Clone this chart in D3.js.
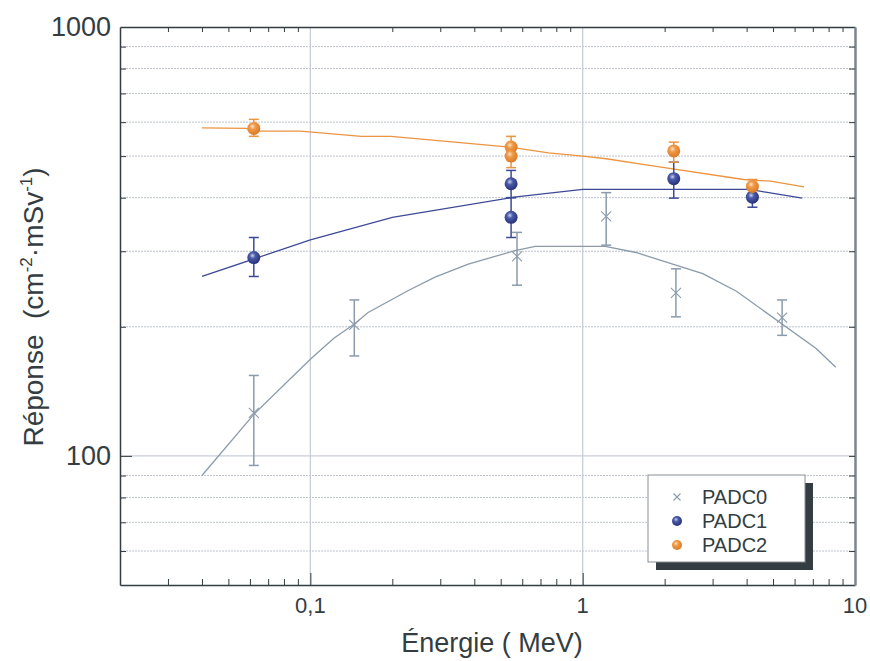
<!DOCTYPE html>
<html>
<head>
<meta charset="utf-8">
<script src="https://cdn.jsdelivr.net/npm/d3@7"></script>
<style>
  body { margin: 0; background: #fff; }
  text { font-family: "Liberation Sans", Arial, sans-serif; fill: #333d42; }
</style>
</head>
<body>
<div id="chart"></div>
<script>
// series names
const seriesNames = ["PADC0", "PADC1", "PADC2"];

// measured points (energy in MeV, response)
const energy0 = [0.062, 0.145, 0.574, 1.22, 2.2, 5.4];
const resp0 = [126, 202, 292, 362, 240, 210];
const low0 = [95, 171, 250, 310, 211, 191];
const high0 = [154, 231, 332, 411, 273, 231];

const energy1 = [0.062, 0.546, 0.546, 2.16, 4.2];
const resp1 = [290, 431, 360, 443, 401];
const low1 = [262, 400, 323, 399, 380];
const high1 = [323, 463, 400, 484, 422];

const energy2 = [0.062, 0.546, 0.546, 2.16, 4.2];
const resp2 = [580, 525, 500, 514, 425];
const low2 = [556, 500, 470, 484, 410];
const high2 = [609, 556, 525, 539, 441];

// calculated response curves
const fitE0 = [0.04, 0.062, 0.1, 0.122, 0.145, 0.163, 0.229, 0.287, 0.38, 0.564, 0.67, 1.21, 1.57, 2.76, 3.67, 7.2, 8.5];
const fitR0 = [90, 125, 168, 188, 203, 216, 243, 261, 280, 301, 308, 308, 298, 266, 242, 178, 161];
const fitE1 = [0.04, 0.1, 0.2, 0.56, 1.0, 4.1, 4.7, 6.4];
const fitR1 = [262, 319, 360, 401, 418, 418, 412, 399];
const fitE2 = [0.04, 0.058, 0.063, 0.092, 0.154, 0.198, 0.54, 0.75, 1.0, 1.22, 1.76, 3.9, 4.9, 6.5];
const fitR2 = [582, 580, 572, 572, 556, 556, 525, 509, 500, 493, 476, 441, 437, 424];

// tick labels
const xTickValues = [0.1, 1, 10];
const xTickLabels = ["0,1", "1", "10"];
const yTickValues = [100, 1000];
const yTickLabels = ["100", "1000"];

const svgWidth = 870;
const svgHeight = 661;
const margin = { top: 27, right: 15, bottom: 76, left: 120 };
const chartWidth = svgWidth - margin.left - margin.right;
const chartHeight = svgHeight - margin.top - margin.bottom;

const colors = ["#8b9bab", "#3d4a97", "#ec9440"];

const svg = d3.select("#chart").append("svg")
    .attr("width", svgWidth)
    .attr("height", svgHeight);

const defs = svg.append("defs");
const sphere = (id, c0, c1, c2) => {
    const g = defs.append("radialGradient").attr("id", id)
        .attr("cx", "40%").attr("cy", "35%").attr("r", "65%");
    g.append("stop").attr("offset", "0%").attr("stop-color", c0);
    g.append("stop").attr("offset", "35%").attr("stop-color", c1);
    g.append("stop").attr("offset", "100%").attr("stop-color", c2);
};
sphere("blueBall", "#c9d0ee", "#4a5aa8", "#27337a");
sphere("orangeBall", "#fde2c4", "#f09a48", "#d97a25");

const x = d3.scaleLog().domain([0.02, 10]).range([0, chartWidth]);
const y = d3.scaleLog().domain([50, 1000]).range([chartHeight, 0]);

const chartGroup = svg.append("g")
    .attr("transform", `translate(${margin.left}, ${margin.top})`);

const xMinor = x.ticks().filter(t => !xTickValues.includes(t) && t > 0.02 && t < 10);
const yMinor = y.ticks().filter(t => !yTickValues.includes(t) && t > 50 && t < 1000);

// dotted horizontal grid at minor values
chartGroup.append("g").selectAll("line").data(yMinor)
    .enter().append("line")
    .attr("x1", 0).attr("x2", chartWidth)
    .attr("y1", d => y(d)).attr("y2", d => y(d))
    .attr("stroke", "#bcc2ce")
    .attr("stroke-width", 1)
    .attr("stroke-dasharray", "2,1");

// solid grid at majors
chartGroup.append("g").selectAll("line").data([0.1, 1])
    .enter().append("line")
    .attr("x1", d => x(d)).attr("x2", d => x(d))
    .attr("y1", 0).attr("y2", chartHeight)
    .attr("stroke", "#c8cdd8").attr("stroke-width", 1.3);
chartGroup.append("line")
    .attr("x1", 0).attr("x2", chartWidth)
    .attr("y1", y(100)).attr("y2", y(100))
    .attr("stroke", "#c8cdd8").attr("stroke-width", 1.3);

// axes
const styleAxis = g => {
    g.select(".domain").attr("stroke", "#333d42").attr("stroke-width", 1.5);
    g.selectAll(".tick line").attr("stroke", "#333d42").attr("stroke-width", 1);
    g.selectAll(".tick text").remove();
};

const xAxisG = chartGroup.append("g")
    .attr("transform", `translate(0, ${chartHeight})`)
    .call(d3.axisBottom(x).tickValues(xMinor.concat([0.1, 1])).tickSize(-6).tickSizeOuter(0))
    .call(styleAxis);
xAxisG.selectAll(".tick line").filter(d => d === 0.1 || d === 1).attr("y2", -12);

chartGroup.append("g")
    .call(d3.axisTop(x).tickValues(xMinor).tickSize(-5).tickSizeOuter(0))
    .call(styleAxis);

const yAxisG = chartGroup.append("g")
    .call(d3.axisLeft(y).tickValues(yMinor.concat([100])).tickSize(-6).tickSizeOuter(0))
    .call(styleAxis);
yAxisG.selectAll(".tick line").filter(d => d === 100).attr("x2", 12);

const yRight = chartGroup.append("g")
    .attr("transform", `translate(${chartWidth}, 0)`)
    .call(d3.axisRight(y).tickValues(yMinor.concat([100])).tickSize(-6).tickSizeOuter(0))
    .call(styleAxis);
yRight.select(".domain").attr("stroke", "#7d858c").attr("stroke-width", 2.5);

// tick labels
chartGroup.append("g").selectAll("text").data(xTickValues)
    .enter().append("text")
    .attr("x", d => x(d))
    .attr("y", chartHeight + 28)
    .attr("text-anchor", "middle")
    .attr("font-size", "22px")
    .text((d, i) => xTickLabels[i]);

chartGroup.append("g").selectAll("text").data(yTickValues)
    .enter().append("text")
    .attr("x", -9)
    .attr("y", d => y(d))
    .attr("dy", "0.35em")
    .attr("text-anchor", "end")
    .attr("font-size", "27px")
    .text((d, i) => yTickLabels[i]);

// axis titles
svg.append("text")
    .attr("x", 492)
    .attr("y", 652)
    .attr("text-anchor", "middle")
    .attr("font-size", "27px")
    .text("Énergie ( MeV)");

const yTitle = svg.append("text")
    .attr("transform", "translate(43, 307) rotate(-90)")
    .attr("text-anchor", "middle")
    .attr("font-size", "28px");
yTitle.append("tspan").text("Réponse\u00a0\u00a0(cm");
yTitle.append("tspan").attr("font-size", "17px").attr("dy", -11).text("-2");
yTitle.append("tspan").attr("dy", 11).text("·mSv");
yTitle.append("tspan").attr("font-size", "17px").attr("dy", -11).text("-1");
yTitle.append("tspan").attr("dy", 11).text(")");

// curves
const line = d3.line().x(d => x(d[0])).y(d => y(d[1]));
const fits = [
    d3.zip(fitE0, fitR0),
    d3.zip(fitE1, fitR1),
    d3.zip(fitE2, fitR2)
];
fits.forEach((f, i) => {
    chartGroup.append("path")
        .datum(f)
        .attr("fill", "none")
        .attr("stroke", colors[i])
        .attr("stroke-width", 1.3)
        .attr("d", line);
});

// error bars
const points = [
    energy0.map((e, i) => ({ e, r: resp0[i], lo: low0[i], hi: high0[i] })),
    energy1.map((e, i) => ({ e, r: resp1[i], lo: low1[i], hi: high1[i] })),
    energy2.map((e, i) => ({ e, r: resp2[i], lo: low2[i], hi: high2[i] }))
];

points.forEach((pts, i) => {
    const g = chartGroup.append("g").attr("stroke", colors[i]).attr("stroke-width", 1.5);
    g.selectAll(".v").data(pts).enter().append("line")
        .attr("x1", d => x(d.e)).attr("x2", d => x(d.e))
        .attr("y1", d => y(d.lo)).attr("y2", d => y(d.hi));
    g.selectAll(".lo").data(pts).enter().append("line")
        .attr("x1", d => x(d.e) - 5).attr("x2", d => x(d.e) + 5)
        .attr("y1", d => y(d.lo)).attr("y2", d => y(d.lo));
    g.selectAll(".hi").data(pts).enter().append("line")
        .attr("x1", d => x(d.e) - 5).attr("x2", d => x(d.e) + 5)
        .attr("y1", d => y(d.hi)).attr("y2", d => y(d.hi));
});

// markers
const drawCross = (g, cx, cy, s, c) => {
    g.append("path")
        .attr("d", `M${cx - s},${cy - s}L${cx + s},${cy + s}M${cx - s},${cy + s}L${cx + s},${cy - s}`)
        .attr("stroke", c).attr("stroke-width", 1.1).attr("fill", "none");
};
const drawBall = (g, cx, cy, r, grad) => {
    g.append("circle")
        .attr("cx", cx).attr("cy", cy).attr("r", r)
        .attr("fill", `url(#${grad})`);
};

const markG = chartGroup.append("g");
points[0].forEach(d => drawCross(markG, x(d.e), y(d.r), 5, colors[0]));
points[1].forEach(d => drawBall(markG, x(d.e), y(d.r), 6.5, "blueBall"));
points[2].forEach(d => drawBall(markG, x(d.e), y(d.r), 6.5, "orangeBall"));

// legend
const legend = svg.append("g").attr("transform", "translate(648, 475)");
legend.append("rect")
    .attr("x", 8).attr("y", 8).attr("width", 157).attr("height", 87)
    .attr("fill", "#333d42");
legend.append("rect")
    .attr("x", 0).attr("y", 0).attr("width", 157).attr("height", 87)
    .attr("fill", "#fff").attr("stroke", "#8a9096").attr("stroke-width", 1);
seriesNames.forEach((name, i) => {
    const ly = 22 + i * 24;
    if (i === 0) drawCross(legend, 29, ly, 3.5, colors[0]);
    else drawBall(legend, 29, ly, 5, i === 1 ? "blueBall" : "orangeBall");
    legend.append("text")
        .attr("x", 54).attr("y", ly)
        .attr("dy", "0.35em")
        .attr("font-size", "20px")
        .text(name);
});
</script>
</body>
</html>
